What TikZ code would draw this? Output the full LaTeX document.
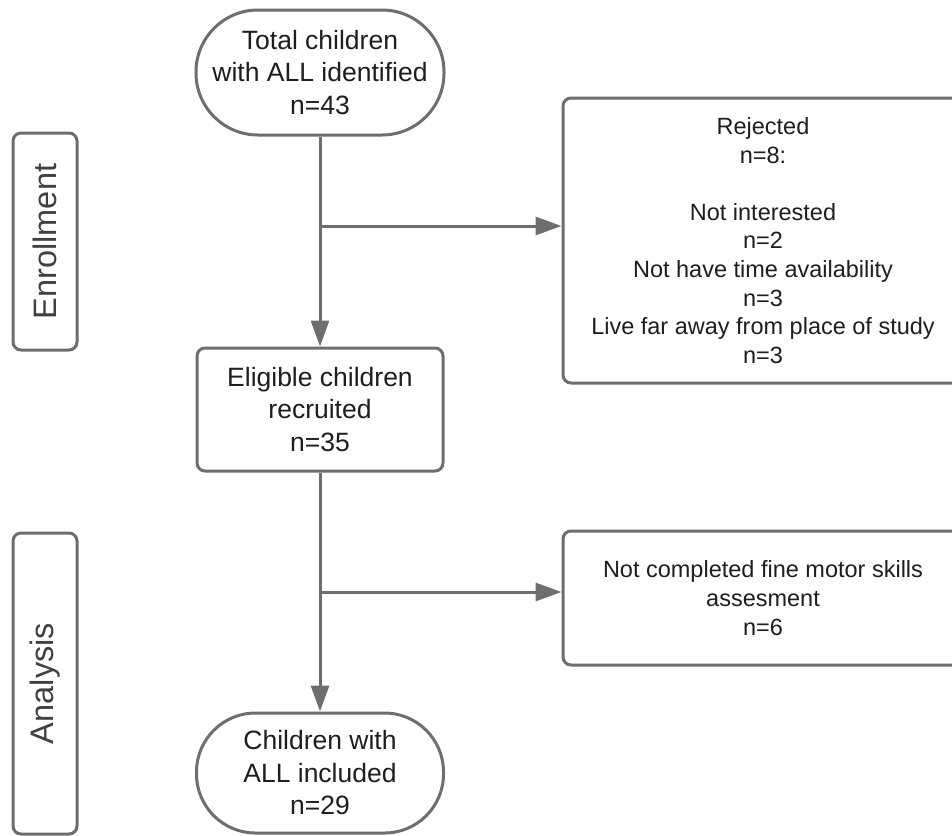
\documentclass[tikz,border=0pt]{standalone}
\usepackage{fontspec}
\setmainfont{Liberation Sans}
\usetikzlibrary{arrows.meta}
\definecolor{linegray}{HTML}{6E6E6E}
\definecolor{textgray}{HTML}{1E1E1E}
\tikzset{
  base/.style={draw=linegray, line width=3pt, fill=white, text=textgray, inner sep=0pt, align=center},
  terminal/.style={base, font=\fontsize{26.5}{32.5}\selectfont},
  procbox/.style={base, rounded corners=8pt, font=\fontsize{26.5}{32.5}\selectfont},
  sidebox/.style={base, rounded corners=8pt, font=\fontsize{23.5}{28.6}\selectfont},
  phasebox/.style={base, rounded corners=8pt, rotate=90, minimum height=64pt, font=\fontsize{32.5}{36}\selectfont, text=textgray!85},
  arr/.style={draw=linegray, line width=3pt, -{Triangle[length=26pt,width=18pt]}},
  plain/.style={draw=linegray, line width=3pt}
}
\begin{document}
\begin{tikzpicture}[x=1pt,y=-1pt]
\useasboundingbox (0,0) rectangle (952,835);
\clip (0,0) rectangle (952,835);

\node[terminal, minimum width=248pt, minimum height=125pt, rounded corners=62pt] (top) at (320,72.5)
  {Total children\\with ALL identified\\n=43};
\node[procbox, minimum width=246pt, minimum height=123pt] (elig) at (320,409.5)
  {Eligible children\\recruited\\n=35};
\node[terminal, minimum width=247pt, minimum height=120pt, rounded corners=59pt] (incl) at (320,773)
  {Children with\\ALL included\\n=29};

\node[sidebox, minimum width=400pt, minimum height=285pt] (rej) at (763,240.5)
  {Rejected\\n=8:\\[28.6pt]Not interested\\n=2\\Not have time availability\\n=3\\Live far away from place of study\\n=3};
\node[sidebox, minimum width=400pt, minimum height=134pt] (notc) at (763,598)
  {Not completed fine motor skills\\assesment\\n=6};

\node[phasebox, minimum width=217pt] (enr) at (45,241.5) {Enrollment};
\node[phasebox, minimum width=301pt] (ana) at (45,683.5) {Analysis};

\coordinate (j1) at (320,226);
\coordinate (j2) at (320,592);

\draw[arr] (top.south) -- (elig.north);
\draw[arr] (j1) -- (j1 -| rej.west);
\draw[arr] (elig.south) -- (incl.north);
\draw[arr] (j2) -- (j2 -| notc.west);
\end{tikzpicture}
\end{document}
